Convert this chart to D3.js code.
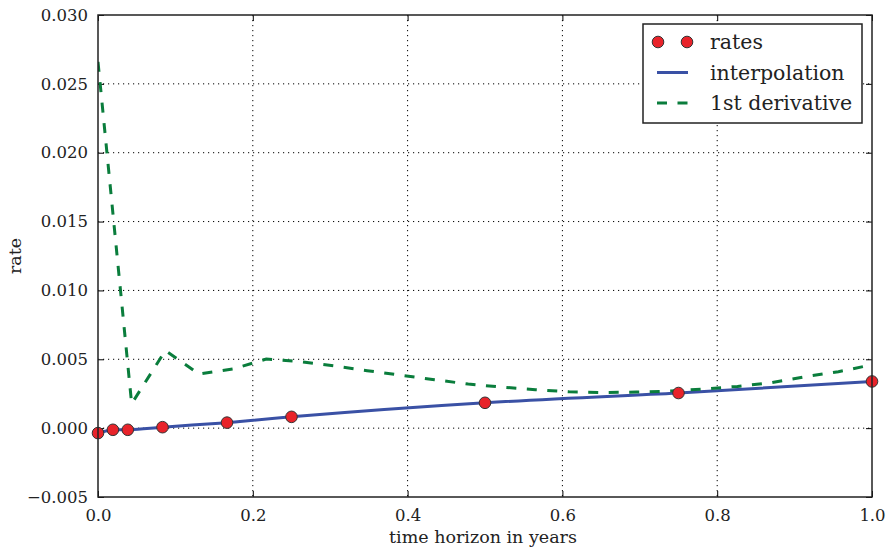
<!DOCTYPE html>
<html>
<head>
<meta charset="utf-8">
<script src="https://cdn.jsdelivr.net/npm/d3@7"></script>
<style>
  html, body { margin: 0; padding: 0; background: #fff; }
  svg { display: block; font-family: "DejaVu Serif", serif; }
</style>
</head>
<body>
<svg id="chart" width="890" height="549"></svg>
<script>
// ---- data ----
const rateTimes = [0, 1/52, 2/52, 1/12, 1/6, 0.25, 0.5, 0.75, 1.0];
const rateValues = [-0.00036, -0.00012, -0.00012, 0.00007, 0.00040, 0.00082, 0.00184, 0.00255, 0.00339];
const derivTimes = d3.range(24).map(k => k / 23);
const derivValues = [0.0266, 0.00177, 0.00563, 0.00393, 0.00429, 0.00502, 0.00483, 0.00453,
                     0.00417, 0.00384, 0.00352, 0.00320, 0.00298, 0.00279, 0.00264, 0.00259,
                     0.00262, 0.00269, 0.00284, 0.00303, 0.00330, 0.00373, 0.00410, 0.00460];
const xTicks = [0, 0.2, 0.4, 0.6, 0.8, 1.0];
const yTicks = [-0.005, 0, 0.005, 0.010, 0.015, 0.020, 0.025, 0.030];
const legendLabels = ["rates", "interpolation", "1st derivative"];

// ---- layout ----
const L = 98, R = 872, T = 15, B = 497;
const svg = d3.select("#chart");
const x = d3.scaleLinear().domain([0, 1]).range([L, R]);
const y = d3.scaleLinear().domain([-0.005, 0.030]).range([B, T]);

const cBlue = "#3a51a5", cGreen = "#0a7d3c", cRed = "#e8232a";
const FONT = "'DejaVu Serif', serif";
const fmtY = v => { const s = d3.format(".3f")(Math.abs(v)); return (v < -1e-12 ? "\u2212" : "") + s; };

// grid
const grid = svg.append("g");
grid.selectAll(".gx").data(xTicks.slice(1, -1)).join("line")
  .attr("x1", d => x(d)).attr("x2", d => x(d)).attr("y1", T).attr("y2", B)
  .attr("stroke", "#000").attr("stroke-width", 1).attr("stroke-dasharray", "1.2,3.8");
grid.selectAll(".gy").data(yTicks.slice(1, -1)).join("line")
  .attr("y1", d => y(d)).attr("y2", d => y(d)).attr("x1", L).attr("x2", R)
  .attr("stroke", "#000").attr("stroke-width", 1).attr("stroke-dasharray", "1.2,3.8");

// axes (ticks inward, both sides)
const axB = d3.axisBottom(x).tickValues(xTicks).tickFormat(d3.format(".1f")).tickSizeInner(-6).tickSizeOuter(0).tickPadding(12);
const axL = d3.axisLeft(y).tickValues(yTicks).tickFormat(fmtY).tickSizeInner(-6).tickSizeOuter(0).tickPadding(10);
const axT = d3.axisTop(x).tickValues(xTicks).tickFormat("").tickSizeInner(-6).tickSizeOuter(0);
const axR = d3.axisRight(y).tickValues(yTicks).tickFormat("").tickSizeInner(-6).tickSizeOuter(0);
function styleAxis(g) {
  g.select(".domain").remove();
  g.selectAll(".tick line").attr("stroke", "#000").attr("stroke-width", 1);
  g.selectAll(".tick text").attr("fill", "#222").attr("font-size", 16.5).attr("font-family", FONT);
}
svg.append("g").attr("transform", `translate(0,${B})`).call(axB).call(styleAxis);
svg.append("g").attr("transform", `translate(${L},0)`).call(axL).call(styleAxis);
svg.append("g").attr("transform", `translate(0,${T})`).call(axT).call(styleAxis);
svg.append("g").attr("transform", `translate(${R},0)`).call(axR).call(styleAxis);

// clip
svg.append("clipPath").attr("id", "clip").append("rect").attr("x", L).attr("y", T).attr("width", R - L).attr("height", B - T);
const plot = svg.append("g").attr("clip-path", "url(#clip)");

// interpolation curve
const rates = rateTimes.map((t, i) => [t, rateValues[i]]);
plot.append("path").datum(rates)
  .attr("d", d3.line().x(d => x(d[0])).y(d => y(d[1])).curve(d3.curveNatural))
  .attr("fill", "none").attr("stroke", cBlue).attr("stroke-width", 3);

// derivative
const deriv = derivTimes.map((t, i) => [t, derivValues[i]]);
plot.append("path").datum(deriv)
  .attr("d", d3.line().x(d => x(d[0])).y(d => y(d[1])))
  .attr("fill", "none").attr("stroke", cGreen).attr("stroke-width", 3)
  .attr("stroke-dasharray", "10,10.5");

// rate markers (drawn unclipped like matplotlib)
svg.append("g").selectAll("circle").data(rates).join("circle")
  .attr("cx", d => x(d[0])).attr("cy", d => y(d[1])).attr("r", 5.8)
  .attr("fill", cRed).attr("stroke", "#333").attr("stroke-width", 1);

// frame
svg.append("rect").attr("x", L).attr("y", T).attr("width", R - L).attr("height", B - T)
  .attr("fill", "none").attr("stroke", "#222").attr("stroke-width", 1.5);

// axis labels
svg.append("text").attr("x", (L + R) / 2 - 2).attr("y", 543).attr("text-anchor", "middle")
  .attr("font-family", FONT).attr("font-size", 17.5).attr("fill", "#222").text("time horizon in years");
svg.append("text").attr("transform", "translate(21,256) rotate(-90)").attr("text-anchor", "middle")
  .attr("font-family", FONT).attr("font-size", 17.5).attr("fill", "#222").text("rate");

// legend
const lg = svg.append("g");
lg.append("rect").attr("x", 643).attr("y", 24).attr("width", 219).attr("height", 99)
  .attr("fill", "#fff").attr("stroke", "#222").attr("stroke-width", 1.5);
const rowsY = [42, 72.5, 103];
lg.selectAll(".lm").data([658, 687]).join("circle")
  .attr("cx", d => d).attr("cy", rowsY[0]).attr("r", 5.8)
  .attr("fill", cRed).attr("stroke", "#333").attr("stroke-width", 1);
lg.append("line").attr("x1", 657).attr("x2", 688).attr("y1", rowsY[1]).attr("y2", rowsY[1])
  .attr("stroke", cBlue).attr("stroke-width", 3);
lg.append("line").attr("x1", 657).attr("x2", 688).attr("y1", rowsY[2]).attr("y2", rowsY[2])
  .attr("stroke", cGreen).attr("stroke-width", 3).attr("stroke-dasharray", "10,10.5");
lg.selectAll(".lt").data(legendLabels).join("text")
  .attr("x", 710).attr("y", (d, i) => rowsY[i]).attr("dy", "0.35em")
  .attr("font-family", FONT).attr("font-size", 20.5).attr("fill", "#222").text(d => d);
</script>
</body>
</html>
